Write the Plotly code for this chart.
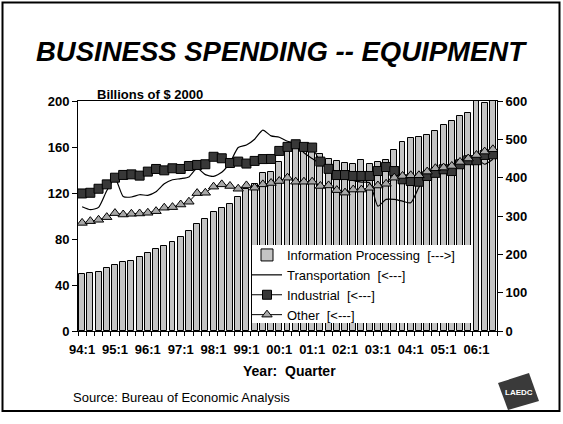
import plotly.graph_objects as go

# ---------------- data ----------------
quarters = [f"{y % 100:02d}:{q}" for y in range(1994, 2007) for q in range(1, 5)][:51]
tick_labels = ["94:1", "95:1", "96:1", "97:1", "98:1", "99:1", "00:1",
               "01:1", "02:1", "03:1", "04:1", "05:1", "06:1"]

info_processing = [148.5, 151, 155, 164, 171, 179, 183, 193, 204, 213, 223, 231,
                   244, 260, 280, 292, 310, 321, 332, 350, 371, 384, 413, 416,
                   442, 478, 486, 476, 474, 462, 448, 443, 437, 435, 445, 435,
                   442, 446, 471, 493, 503, 505, 511, 522, 538, 548, 560, 568,
                   599, 595, 605]

transportation = [108, 105.5, 107.5, 122, 133, 117, 116.5, 118.5, 118, 121, 128,
                  131.5, 132.5, 134, 141.5, 136, 134.5, 138, 146.4, 159.5, 161.8,
                  166.8, 174.7, 169.7, 168.5, 165, 163, 155, 150, 145.5, 142,
                  138.5, 135, 131, 129.5, 129, 108.6, 114.4, 114.4, 112.9, 111.5,
                  125, 134.8, 139.1, 142.1, 143.5, 146.4, 147.9, 149.9, 145, 149.3]

industrial = [119.6, 120.2, 123.7, 127.5, 133.3, 135.7, 136.2, 135.1, 138.6, 140.9,
              139.7, 141.5, 140.9, 143.5, 144.4, 145, 151.5, 150.2, 146.1, 147.3,
              145.6, 147.9, 149.5, 149.6, 156.6, 160.1, 162.4, 160.1, 159.5, 147.3,
              141, 135.6, 135.6, 134.8, 134.8, 134.8, 139.1, 142.6, 139.1, 131.9,
              130.4, 129.8, 134.8, 137.5, 140.6, 139.1, 145, 148.5, 148.5, 153.1,
              153.7]

other = [94.0, 95.5, 96.7, 99.0, 102.5, 101.3, 101.9, 102.2, 102.8, 104.2, 107.2,
         107.7, 110.0, 112.4, 119.9, 120.2, 125.5, 127.5, 126.1, 123.7, 126.6,
         124.6, 127.5, 128.7, 130.4, 133.3, 129.8, 129.8, 129.8, 126.1, 126.6,
         122.5, 120.3, 123, 123, 124.5, 126.5, 128, 133.3, 134.8, 135.4, 135.4,
         138.6, 141.5, 142.1, 143.5, 147, 150, 153, 156, 158]

left_ticks = [0, 40, 80, 120, 160, 200]
right_ticks = [0, 100, 200, 300, 400, 500, 600]

# ---------------- layout helpers ----------------
W_PX, H_PX = 563, 424
L, R, T, B = 78, 497, 101, 331
FONT = "Liberation Sans, Arial, sans-serif"


def px(x):
    return (x - L) / (R - L)


def py(y):
    return (B - y) / (B - T)


xi = list(range(len(quarters)))
label_pos = [quarters.index(t) for t in tick_labels]

fig = go.Figure()

fig.add_trace(go.Bar(
    x=xi, y=info_processing, name="Information Processing\u00a0 [--->]",
    marker=dict(color="#c4c4c4", line=dict(color="black", width=1)),
    width=0.72, yaxis="y",
))
fig.add_trace(go.Scatter(
    x=xi, y=transportation, name="Transportation\u00a0 [<---]", mode="lines",
    line=dict(color="black", width=1.2, shape="spline", smoothing=0.6),
    yaxis="y2",
))
fig.add_trace(go.Scatter(
    x=xi, y=industrial, name="Industrial\u00a0 [<---]", mode="lines+markers",
    line=dict(color="black", width=1),
    marker=dict(symbol="square", size=9, color="#383838",
                line=dict(color="black", width=1)),
    yaxis="y2",
))
fig.add_trace(go.Scatter(
    x=xi, y=other, name="Other\u00a0 [<---]", mode="lines+markers",
    line=dict(color="black", width=1),
    marker=dict(symbol="triangle-up", size=9, color="#a8a8a8",
                line=dict(color="black", width=1)),
    yaxis="y2",
))

tickfont = dict(family=FONT, size=13, color="black", weight="bold")

fig.update_layout(
    width=W_PX, height=H_PX,
    margin=dict(l=L, r=W_PX - R, t=T, b=H_PX - B, pad=0),
    paper_bgcolor="white", plot_bgcolor="white",
    showlegend=True,
    bargap=0,
    font=dict(family=FONT, color="black"),
    xaxis=dict(
        range=[-0.5, len(quarters) - 0.5],
        tickmode="array", tickvals=label_pos, ticktext=tick_labels,
        ticks="", showgrid=False, zeroline=False,
        showline=True, linecolor="black", linewidth=1, mirror=True,
        tickfont=tickfont, ticklabelstandoff=6,
        minor=dict(tickmode="linear", tick0=-0.5, dtick=1, ticks="outside",
                   ticklen=4, tickcolor="black", showgrid=False),
    ),
    yaxis=dict(
        side="right", range=[0, 600], tickmode="array", tickvals=right_ticks,
        ticks="outside", ticklen=5, tickcolor="black",
        showgrid=False, zeroline=False, showline=True, linecolor="black",
        linewidth=1, tickfont=tickfont,
    ),
    yaxis2=dict(
        side="left", overlaying="y", range=[0, 200], tickmode="array",
        tickvals=left_ticks, ticks="outside", ticklen=5, tickcolor="black",
        showgrid=False, zeroline=False, showline=True, linecolor="black",
        linewidth=1, tickfont=tickfont,
    ),
    legend=dict(
        x=px(247), y=py(240), xanchor="left", yanchor="top",
        bgcolor="rgba(0,0,0,0)", borderwidth=0,
        font=dict(family=FONT, size=13, color="black"),
        tracegroupgap=0, itemwidth=30,
    ),
)

annotations = [
    dict(text="<b><i>BUSINESS SPENDING -- EQUIPMENT</i></b>", x=px(281), y=py(52),
         font=dict(size=27.5, family=FONT, color="black")),
    dict(text="<b>Billions of $ 2000</b>", x=px(95), y=py(95), xanchor="left",
         font=dict(size=13, family=FONT, color="black")),
    dict(text="<b>Year:\u00a0 Quarter</b>", x=px(289), y=py(371),
         font=dict(size=14, family=FONT, color="black")),
    dict(text="Source: Bureau of Economic Analysis", x=px(71), y=py(397),
         xanchor="left", font=dict(size=13, family=FONT, color="black")),
    dict(text="<b>LAEDC</b>", x=px(519), y=py(392),
         font=dict(size=8, family=FONT, color="white")),
]
for a in annotations:
    a.setdefault("xanchor", "center")
    a.update(xref="paper", yref="paper", yanchor="middle", showarrow=False)
fig.update_layout(annotations=annotations)

logo = [(498, 383), (529, 373), (539, 401), (508, 410)]
path = "M " + " L ".join(f"{px(x)},{py(y)}" for x, y in logo) + " Z"

fig.update_layout(shapes=[
    dict(type="rect", xref="paper", yref="paper", x0=px(2.5), x1=px(559.5),
         y0=py(411), y1=py(2.5), line=dict(color="black", width=2),
         layer="below"),
    dict(type="rect", xref="paper", yref="paper", x0=px(252), x1=px(472),
         y0=py(323), y1=py(245), fillcolor="white", line=dict(width=0),
         layer="above"),
    dict(type="path", xref="paper", yref="paper", path=path,
         fillcolor="#3a3a3a", line=dict(width=0)),
])

fig.write_html(
    "out.html",
    config={"displayModeBar": False},
    post_script="document.body.style.margin='0px';document.body.style.padding='0px';",
)
